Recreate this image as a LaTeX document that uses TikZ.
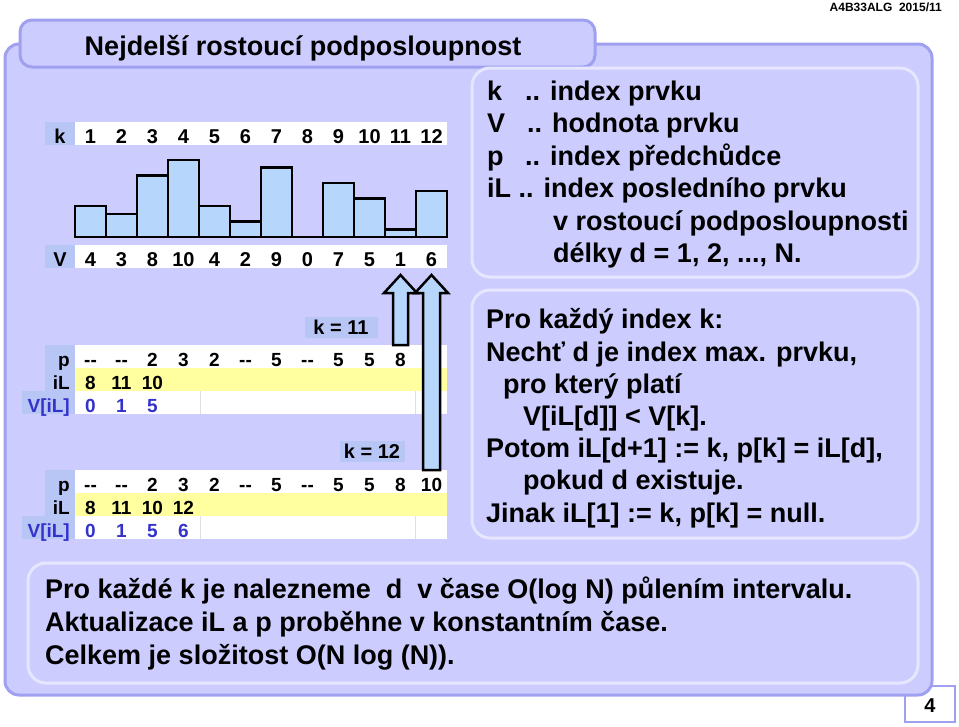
\documentclass[tikz,border=0pt]{standalone}
\usepackage{fontspec}
\setmainfont{Liberation Sans}
\definecolor{panelfill}{RGB}{204,204,255}
\definecolor{panelline}{RGB}{160,160,240}
\definecolor{boxline}{RGB}{230,230,255}
\definecolor{labelfill}{RGB}{184,198,246}
\definecolor{barfill}{RGB}{182,214,252}
\definecolor{ilfill}{RGB}{255,255,160}
\definecolor{vilblue}{RGB}{51,51,204}
\newcommand{\nopred}{-\kern0pt-}
\begin{document}
\begin{tikzpicture}[x=1pt, y=-1pt,
  panel/.style={fill=panelfill, draw=panelline, line width=3pt, rounded corners=14pt},
  innerbox/.style={draw=boxline, line width=3pt, rounded corners=18pt},
  numtxt/.style={font=\fontsize{20}{24}\selectfont\bfseries, inner sep=0pt, anchor=base},
  tabtxt/.style={font=\fontsize{19}{23}\selectfont\bfseries, inner sep=0pt, anchor=base},
  labtxt/.style={font=\fontsize{19}{23}\selectfont\bfseries, inner sep=0pt, anchor=base east},
  kbox/.style={fill=labelfill, font=\fontsize{20}{24}\selectfont\bfseries, inner sep=0pt, minimum height=21pt},
  bigtxt/.style={font=\fontsize{27}{32}\selectfont\bfseries, inner sep=0pt, anchor=base west},
  bar/.style={fill=barfill, draw=black, line width=2.5pt},
  blockarrow/.style={fill=barfill, draw=black, line width=2.5pt, line join=miter}
]
\useasboundingbox (0,0) rectangle (959,726);

% page number and slide panel
\draw[fill=white, draw=panelline, line width=2.5pt] (905,686) rectangle (955,722);
\node[font=\fontsize{20}{24}\selectfont\bfseries, inner sep=0pt, anchor=base] (pagenum) at (930,712) {4};
\draw[panel] (5,44) rectangle (932,695);
\draw[panel, rounded corners=12pt] (20,20) rectangle (595,67);
\node[bigtxt, anchor=base] (title) at (303,55) {Nejdelší rostoucí podposloupnost};
\node[font=\fontsize{12}{14}\selectfont\bfseries, inner sep=0pt, anchor=base east] (course) at (942,11) {A4B33ALG\ \ 2015/11};

% inner boxes
\draw[innerbox] (472,68) rectangle (918,277);
\draw[innerbox] (472,290) rectangle (918,538);
\draw[innerbox] (28,563) rectangle (918,683);

% k row, bars, V row
\fill[labelfill] (45,122) rectangle (75,145);
\fill[white] (75,122) rectangle (447,145);
\node[numtxt] (klab) at (60,143) {k};
\foreach \i in {1,...,12}
  \node[numtxt] (k\i) at ({59.5+31*\i},143) {\i};
\foreach \v [count=\i] in {4,3,8,10,4,2,9,0,7,5,1,6}
  \draw[bar] ({44+31*\i},237) rectangle ({75+31*\i},{237-7.7*\v});
\fill[labelfill] (45,245) rectangle (75,268);
\fill[white] (75,245) rectangle (447,268);
\node[numtxt] (vlab) at (60,266) {V};
\foreach \v [count=\i] in {4,3,8,10,4,2,9,0,7,5,1,6}
  \node[numtxt] (v\i) at ({59.5+31*\i},266) {\v};

% state after k = 11
\node[kbox, minimum width=73pt] (kel) at (341,327) {k = 11};
\fill[labelfill] (45,345) rectangle (75,391);
\fill[labelfill] (22,391) rectangle (75,414);
\fill[white] (75,345) rectangle (447,368);
\fill[ilfill] (75,368) rectangle (447,391);
\fill[white] (75,391) rectangle (447,414);
\draw[gray!25, line width=0.6pt] (200,391) -- (200,414) (415,391) -- (415,414);
\node[labtxt] (plaba) at (70,366) {p};
\node[labtxt] (ilaba) at (70,389) {iL};
\node[labtxt, text=vilblue] (vilaba) at (70,412) {V[iL]};
\foreach \pv [count=\i] in {\nopred,\nopred,2,3,2,\nopred,5,\nopred,5,5,8}
  \node[tabtxt] (pa\i) at ({59.5+31*\i},366) {\pv};
\foreach \iv [count=\i] in {8,11,10}
  \node[tabtxt] (ila\i) at ({59.5+31*\i},389) {\iv};
\foreach \vv [count=\i] in {0,1,5}
  \node[tabtxt, text=vilblue] (vila\i) at ({59.5+31*\i},412) {\vv};

% state after k = 12
\node[kbox, minimum width=65pt] (ktw) at (372,451) {k = 12};
\fill[labelfill] (45,470) rectangle (75,516);
\fill[labelfill] (22,516) rectangle (75,539);
\fill[white] (75,470) rectangle (447,493);
\fill[ilfill] (75,493) rectangle (447,516);
\fill[white] (75,516) rectangle (447,539);
\draw[gray!25, line width=0.6pt] (200,516) -- (200,539) (415,516) -- (415,539);
\node[labtxt] (plabb) at (70,491) {p};
\node[labtxt] (ilabb) at (70,514) {iL};
\node[labtxt, text=vilblue] (vilabb) at (70,537) {V[iL]};
\foreach \pv [count=\i] in {\nopred,\nopred,2,3,2,\nopred,5,\nopred,5,5,8,10}
  \node[tabtxt] (pb\i) at ({59.5+31*\i},491) {\pv};
\foreach \iv [count=\i] in {8,11,10,12}
  \node[tabtxt] (ilb\i) at ({59.5+31*\i},514) {\iv};
\foreach \vv [count=\i] in {0,1,5,6}
  \node[tabtxt, text=vilblue] (vilb\i) at ({59.5+31*\i},537) {\vv};

% arrows from the new p entries up to V
\draw[blockarrow] (393,345) -- (393,293) -- (384,293) -- (400.5,275) -- (417,293) -- (408,293) -- (408,345) -- cycle;
\draw[blockarrow] (423,470) -- (423,293) -- (415,293) -- (431.5,275) -- (448,293) -- (440,293) -- (440,470) -- cycle;

% legend
\node[bigtxt] (lk) at (487,100) {k};
\node[bigtxt] (lkdesc) at (525,100) {.. index prvku};
\node[bigtxt] (lv) at (487,132) {V};
\node[bigtxt] (lvdesc) at (527,132) {.. hodnota prvku};
\node[bigtxt] (lp) at (487,165) {p};
\node[bigtxt] (lpdesc) at (525,165) {.. index předchůdce};
\node[bigtxt] (lil) at (487,197) {iL .. index posledního prvku};
\node[bigtxt] (lilb) at (553,230) {v rostoucí podposloupnosti};
\node[bigtxt] (lilc) at (553,262) {délky d = 1, 2, ..., N.};

% rule
\node[bigtxt] (ra) at (486,328) {Pro každý index k:};
\node[bigtxt] (rb) at (486,361) {Nechť d je index max. prvku,};
\node[bigtxt] (rc) at (503,393) {pro který platí};
\node[bigtxt] (rd) at (523,425) {V[iL[d]] < V[k].};
\node[bigtxt] (re) at (486,457) {Potom iL[d+1] := k, p[k] = iL[d],};
\node[bigtxt] (rf) at (523,489) {pokud d existuje.};
\node[bigtxt] (rg) at (486,522) {Jinak iL[1] := k, p[k] = null.};

% complexity
\node[bigtxt] (ca) at (45,598) {Pro každé k je nalezneme\ \ d\ \ v čase O(log N) půlením intervalu.};
\node[bigtxt] (cb) at (45,631) {Aktualizace iL a p proběhne v konstantním čase.};
\node[bigtxt] (cc) at (45,664) {Celkem je složitost O(N log (N)).};
\end{tikzpicture}
\end{document}
